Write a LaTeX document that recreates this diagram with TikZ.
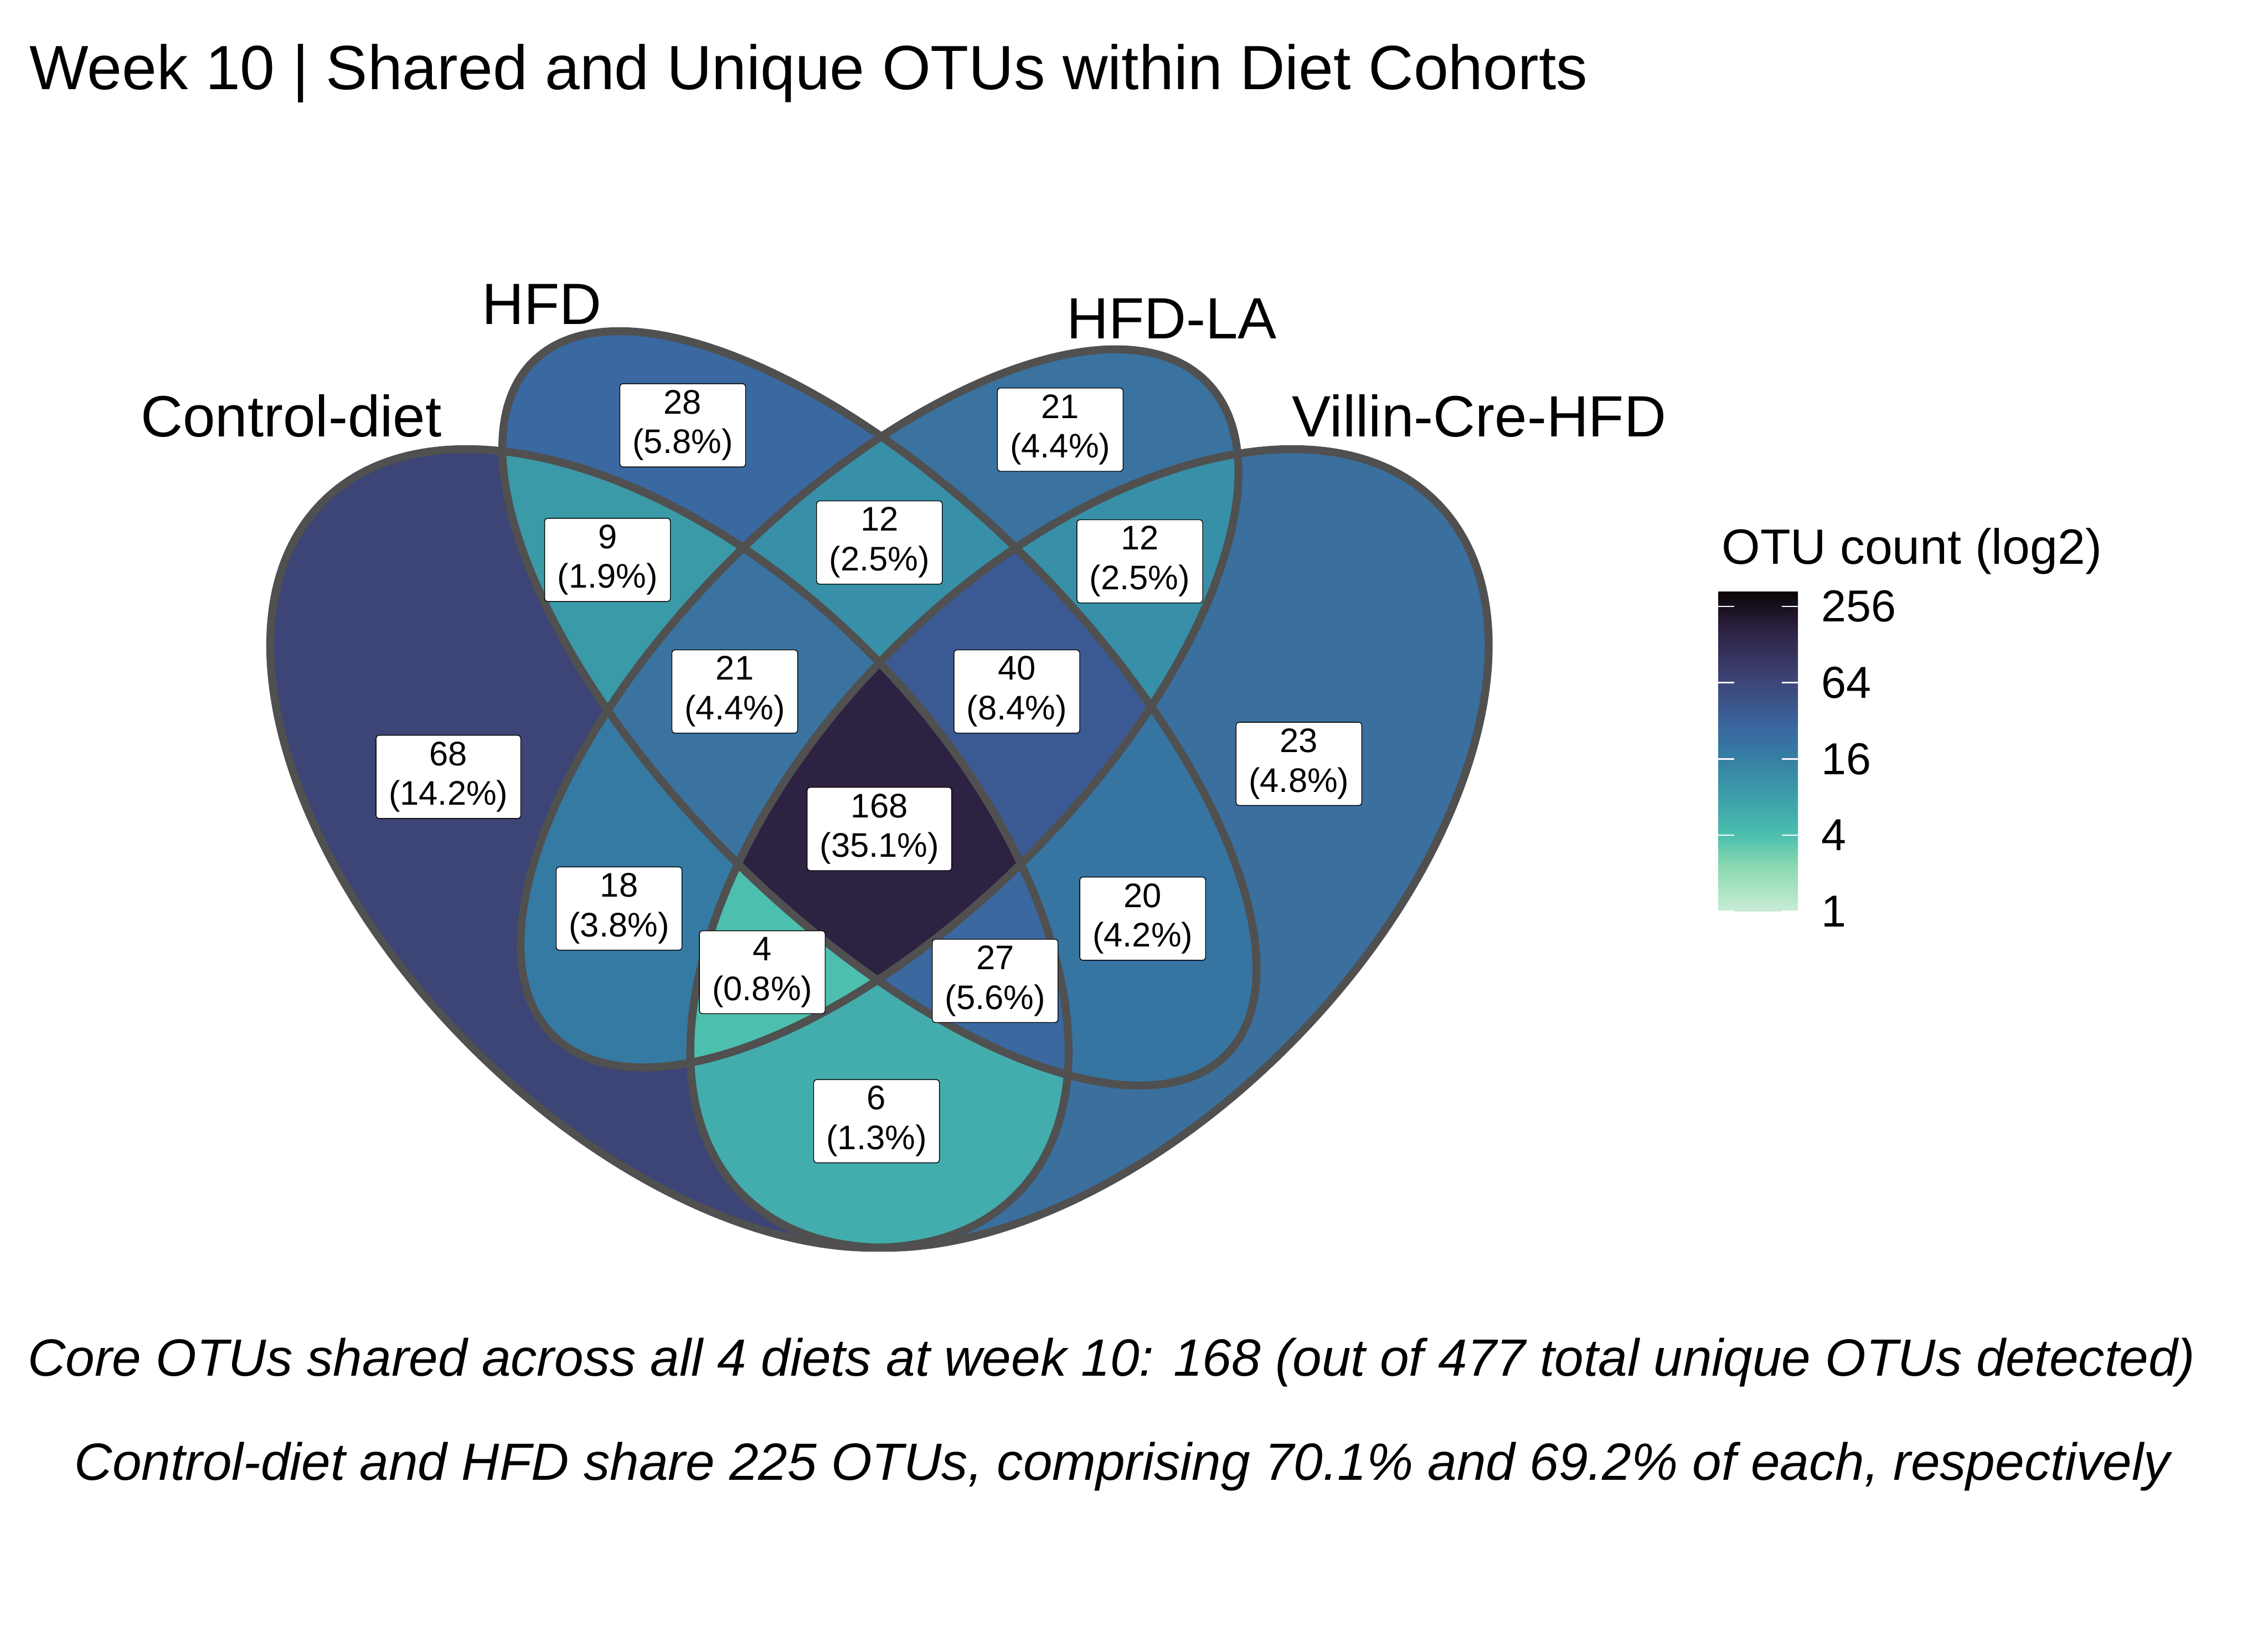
\documentclass[tikz,border=0pt]{standalone}
\usepackage{fontspec}
\setmainfont{Liberation Sans}
\usepackage{xcolor}
\usepackage{tikz}
\usetikzlibrary{positioning}
\definecolor{edgegray}{HTML}{505050}
\definecolor{cA}{HTML}{3D4476}
\definecolor{cB}{HTML}{3A68A0}
\definecolor{cC}{HTML}{3A739F}
\definecolor{cD}{HTML}{3A6F9E}
\definecolor{cAB}{HTML}{3A9AA8}
\definecolor{cBC}{HTML}{3790A8}
\definecolor{cCD}{HTML}{3790A8}
\definecolor{cAC}{HTML}{357AA3}
\definecolor{cBD}{HTML}{3675A2}
\definecolor{cAD}{HTML}{42ADAC}
\definecolor{cABC}{HTML}{3A739F}
\definecolor{cBCD}{HTML}{3B5A93}
\definecolor{cACD}{HTML}{4CBFAE}
\definecolor{cABD}{HTML}{3A689F}
\definecolor{cABCD}{HTML}{2D2242}
\definecolor{mktop}{HTML}{0B0405}
\definecolor{mkmint}{HTML}{8AD9B1}
\definecolor{mkbottom}{HTML}{C9ECD5}
\pgfdeclareverticalshading{makobar}{100bp}{color(0bp)=(mkbottom); color(25bp)=(mkbottom); color(32.14bp)=(mkmint); color(36.92bp)=(cACD); color(43.88bp)=(cAB); color(49.85bp)=(cAC); color(53.64bp)=(cB); color(61.27bp)=(cA); color(69.04bp)=(cABCD); color(75bp)=(mktop); color(100bp)=(mktop)}
\newcommand{\vennA}{(0.35,0.47) ellipse [x radius=0.35, y radius=0.20]}
\newcommand{\vennB}{(0.50,0.57) ellipse [x radius=0.35, y radius=0.15]}
\newcommand{\vennC}{(0.50,0.57) ellipse [x radius=0.33, y radius=0.15]}
\newcommand{\vennD}{(0.65,0.47) ellipse [x radius=0.35, y radius=0.20]}
\tikzset{
  setA/.style={rotate around={135:(0.35,0.47)}},
  setB/.style={rotate around={135:(0.50,0.57)}},
  setC/.style={rotate around={45:(0.50,0.57)}},
  setD/.style={rotate around={45:(0.65,0.47)}},
  vennedge/.style={draw=edgegray, line width=1.1mm},
  cntbox/.style={rectangle, rounded corners=0.4mm, draw=black, line width=0.3pt, fill=white, align=center, inner xsep=5pt, inner ysep=2.5pt, font=\fontsize{13.4}{15.6}\selectfont},
  setname/.style={anchor=base west, inner sep=0pt, font=\fontsize{22.9}{27}\selectfont},
  titletext/.style={anchor=base west, inner sep=0pt, font=\fontsize{24.6}{29}\selectfont},
  captext/.style={anchor=base, inner sep=0pt, font=\fontsize{20.6}{25}\selectfont\itshape},
  legtitle/.style={anchor=base west, inner sep=0pt, font=\fontsize{19.5}{23}\selectfont},
  legtick/.style={anchor=west, inner sep=0pt, font=\fontsize{17.6}{21}\selectfont}
}
\begin{document}
\begin{tikzpicture}[x=0.2mm, y=-0.2mm]
\useasboundingbox (0,0) rectangle (1568,1127);
\begin{scope}[shift={(124,1041.4)}, x=193.6mm, y=193.6mm]
\fill[setA, cA] \vennA;
\fill[setB, cB] \vennB;
\fill[setC, cC] \vennC;
\fill[setD, cD] \vennD;
\begin{scope}\clip[setA] \vennA; \fill[setB, cAB] \vennB; \end{scope}
\begin{scope}\clip[setB] \vennB; \fill[setC, cBC] \vennC; \end{scope}
\begin{scope}\clip[setC] \vennC; \fill[setD, cCD] \vennD; \end{scope}
\begin{scope}\clip[setA] \vennA; \fill[setC, cAC] \vennC; \end{scope}
\begin{scope}\clip[setB] \vennB; \fill[setD, cBD] \vennD; \end{scope}
\begin{scope}\clip[setA] \vennA; \fill[setD, cAD] \vennD; \end{scope}
\begin{scope}\clip[setA] \vennA; \clip[setB] \vennB; \fill[setC, cABC] \vennC; \end{scope}
\begin{scope}\clip[setB] \vennB; \clip[setC] \vennC; \fill[setD, cBCD] \vennD; \end{scope}
\begin{scope}\clip[setA] \vennA; \clip[setC] \vennC; \fill[setD, cACD] \vennD; \end{scope}
\begin{scope}\clip[setA] \vennA; \clip[setB] \vennB; \fill[setD, cABD] \vennD; \end{scope}
\begin{scope}\clip[setA] \vennA; \clip[setB] \vennB; \clip[setC] \vennC; \fill[setD, cABCD] \vennD; \end{scope}
\draw[vennedge, setA] \vennA;
\draw[vennedge, setB] \vennB;
\draw[vennedge, setC] \vennC;
\draw[vennedge, setD] \vennD;
\end{scope}
\node[titletext] (title) at (20,62) {Week 10 | Shared and Unique OTUs within Diet Cohorts};
\node[setname] (nameA) at (97,302) {Control-diet};
\node[setname] (nameB) at (333,224) {HFD};
\node[setname] (nameC) at (737,234) {HFD-LA};
\node[setname] (nameD) at (893,302) {Villin-Cre-HFD};
\node[cntbox] (nB) at (472,294) {28\\(5.8\%)};
\node[cntbox] (nC) at (733,297) {21\\(4.4\%)};
\node[cntbox] (nA) at (310,537) {68\\(14.2\%)};
\node[cntbox] (nAB) at (420,387) {9\\(1.9\%)};
\node[cntbox] (nBC) at (608,375) {12\\(2.5\%)};
\node[cntbox] (nCD) at (788,388) {12\\(2.5\%)};
\node[cntbox] (nABC) at (508,478) {21\\(4.4\%)};
\node[cntbox] (nBCD) at (703,478) {40\\(8.4\%)};
\node[cntbox] (nABCD) at (608,573) {168\\(35.1\%)};
\node[cntbox] (nD) at (898,528) {23\\(4.8\%)};
\node[cntbox] (nAC) at (428,628) {18\\(3.8\%)};
\node[cntbox] (nBD) at (790,635) {20\\(4.2\%)};
\node[cntbox] (nACD) at (527,672) {4\\(0.8\%)};
\node[cntbox] (nABD) at (688,678) {27\\(5.6\%)};
\node[cntbox] (nAD) at (606,775) {6\\(1.3\%)};
\node[legtitle] (legname) at (1190,390) {OTU count (log2)};
\shade[shading=makobar] (1188,409) rectangle (1243,630);
\foreach \k/\lab in {0/1,1/4,2/16,3/64,4/256}{
  \draw[white, line width=0.6pt] (1188,{630-52.7*\k}) -- ++(11,0);
  \draw[white, line width=0.6pt] (1243,{630-52.7*\k}) -- ++(-11,0);
  \node[legtick] (tick\k) at (1259,{630-52.7*\k}) {\lab};
}
\node[captext] (capcore) at (768.5,951) {Core OTUs shared across all 4 diets at week 10: 168 (out of 477 total unique OTUs detected)};
\node[captext] (capshare) at (776,1023) {Control-diet and HFD share 225 OTUs, comprising 70.1\% and 69.2\% of each, respectively};
\end{tikzpicture}
\end{document}
